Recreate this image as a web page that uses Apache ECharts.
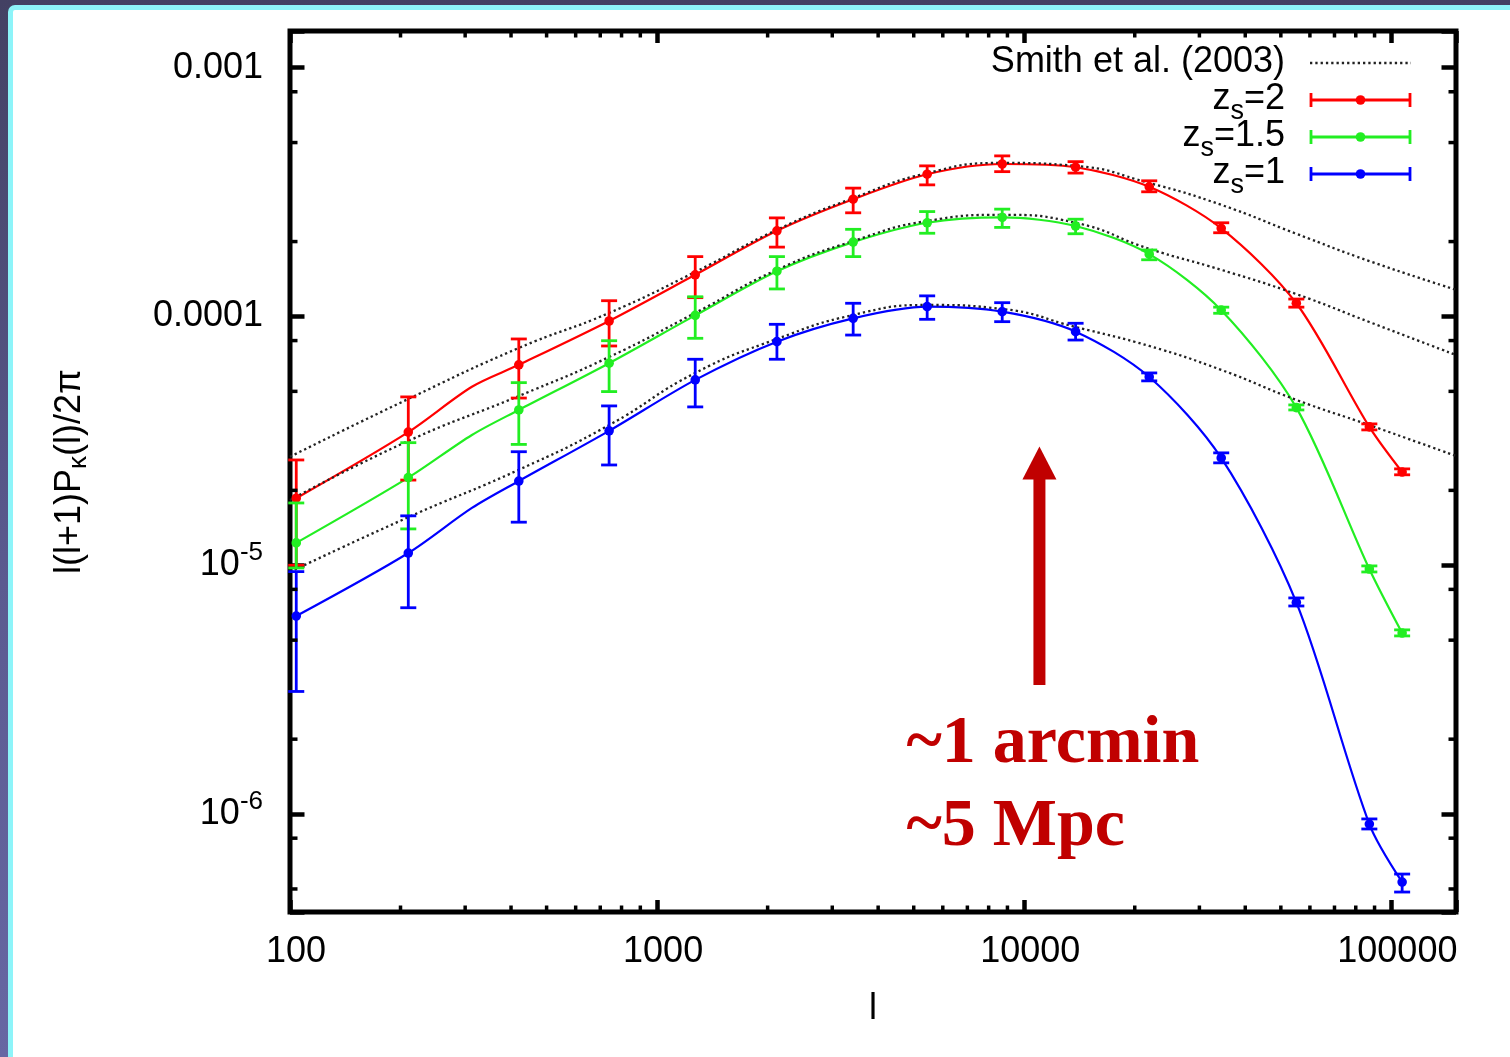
<!DOCTYPE html>
<html>
<head>
<meta charset="utf-8">
<script src="https://cdn.jsdelivr.net/npm/echarts@6/dist/echarts.min.js"></script>
<style>
  html, body { margin: 0; padding: 0; width: 1510px; height: 1057px; overflow: hidden;
    background: linear-gradient(180deg, #434163 0%, #5b5a90 55%, #6767a3 100%); }
  #panel { position: absolute; left: 8px; top: 5px; width: 1540px; height: 1090px;
    background: #fff; border: 5px solid #8df4f9; border-radius: 7px; box-sizing: border-box; }
  #chart { position: absolute; left: 0; top: 0; width: 1510px; height: 1057px; }
</style>
</head>
<body>
<div id="panel"></div>
<div id="chart"></div>
<script>
// ---- multipole bins shared by the three source redshifts ----
const binL = [104, 210, 420, 740, 1270, 2120, 3420, 5440, 8710, 13800, 21900, 34400, 55100, 87100, 107000];

// convergence power l(l+1)P(l)/2pi, with lower / upper error bar ends
const z2   = [1.86e-5, 3.43e-5, 6.39e-5, 9.59e-5, 1.47e-4, 2.21e-4, 2.96e-4, 3.73e-4, 4.10e-4, 3.98e-4, 3.32e-4, 2.26e-4, 1.13e-4, 3.60e-5, 2.37e-5];
const z2Lo = [1.00e-5, 2.20e-5, 4.70e-5, 7.61e-5, 1.19e-4, 1.90e-4, 2.61e-4, 3.38e-4, 3.82e-4, 3.77e-4, 3.17e-4, 2.17e-4, 1.09e-4, 3.50e-5, 2.31e-5];
const z2Hi = [2.65e-5, 4.75e-5, 8.12e-5, 1.157e-4, 1.74e-4, 2.49e-4, 3.28e-4, 4.03e-4, 4.42e-4, 4.19e-4, 3.51e-4, 2.38e-4, 1.175e-4, 3.70e-5, 2.44e-5];

const z15   = [1.23e-5, 2.25e-5, 4.21e-5, 6.49e-5, 1.01e-4, 1.52e-4, 1.99e-4, 2.38e-4, 2.50e-4, 2.31e-4, 1.78e-4, 1.06e-4, 4.30e-5, 9.66e-6, 5.34e-6];
const z15Lo = [9.75e-6, 1.40e-5, 3.06e-5, 4.99e-5, 8.17e-5, 1.29e-4, 1.74e-4, 2.16e-4, 2.28e-4, 2.15e-4, 1.69e-4, 1.03e-4, 4.21e-5, 9.40e-6, 5.20e-6];
const z15Hi = [1.78e-5, 3.11e-5, 5.42e-5, 7.99e-5, 1.20e-4, 1.74e-4, 2.24e-4, 2.64e-4, 2.70e-4, 2.46e-4, 1.85e-4, 1.09e-4, 4.41e-5, 9.94e-6, 5.50e-6];

const z1   = [6.25e-6, 1.12e-5, 2.18e-5, 3.47e-5, 5.56e-5, 7.92e-5, 9.83e-5, 1.095e-4, 1.045e-4, 8.69e-5, 5.71e-5, 2.70e-5, 7.09e-6, 9.12e-7, 5.33e-7];
const z1Lo = [3.11e-6, 6.75e-6, 1.49e-5, 2.53e-5, 4.33e-5, 6.73e-5, 8.42e-5, 9.74e-5, 9.53e-5, 8.04e-5, 5.51e-5, 2.58e-5, 6.86e-6, 8.71e-7, 4.86e-7];
const z1Hi = [9.43e-6, 1.58e-5, 2.86e-5, 4.37e-5, 6.73e-5, 9.30e-5, 1.13e-4, 1.21e-4, 1.136e-4, 9.39e-5, 5.93e-5, 2.83e-5, 7.39e-6, 9.56e-7, 5.74e-7];

// extra vertex of the measured curves between the 2nd and 3rd bins
const kneeL = 313;
const z2Knee = 5.22e-5, z15Knee = 3.34e-5, z1Knee = 1.70e-5;

// Smith et al. (2003) halofit predictions
const smithL  = [100, 210, 420, 740, 1270, 2120, 3420, 5440, 8710, 13800, 21900, 34400, 55100, 87100, 150000];
const smith2  = [2.73e-5, 4.66e-5, 7.47e-5, 1.033e-4, 1.51e-4, 2.23e-4, 2.99e-4, 3.77e-4, 4.14e-4, 4.03e-4, 3.44e-4, 2.81e-4, 2.15e-4, 1.67e-4, 1.28e-4];
const smith15 = [1.83e-5, 3.16e-5, 4.79e-5, 6.87e-5, 1.033e-4, 1.54e-4, 2.01e-4, 2.42e-4, 2.56e-4, 2.38e-4, 1.87e-4, 1.54e-4, 1.23e-4, 9.5e-5, 7.0e-5];
const smith1  = [9.4e-6, 1.56e-5, 2.42e-5, 3.66e-5, 5.93e-5, 8.12e-5, 1.014e-4, 1.112e-4, 1.072e-4, 9.07e-5, 7.61e-5, 6.10e-5, 4.62e-5, 3.66e-5, 2.75e-5];

// axes
const xRange = [100, 150000];
const yRange = [4.04e-7, 1.404e-3];
const xTickValues = [100, 1000, 10000, 100000];
const xTickLabels = ['100', '1000', '10000', '100000'];
const yTickValues = [1e-6, 1e-5, 1e-4, 1e-3];
const yTickLabels = [['10', '-6'], ['10', '-5'], ['0.0001', ''], ['0.001', '']];
const xMinorMant = [2, 3, 4, 5, 6, 7, 8, 9];
const yMinorMant = [2, 5, 8];
const xDecades = [100, 1000, 10000, 100000];
const yDecades = [1e-7, 1e-6, 1e-5, 1e-4];

// legend entries and annotation
const smithName = 'Smith et al. (2003)';
const seriesNames = ['z_s=2', 'z_s=1.5', 'z_s=1'];
const annotL = 11000, annotFrom = 3.3e-6, annotTo = 3.0e-5;
const annotLines = ['~1 arcmin', '~5 Mpc'];

const FONT = "'Liberation Sans', Arial, Helvetica, sans-serif";
const COLORS = ['#ff0000', '#22ee22', '#0000ff'];
const DOT = '#222222';
const DARKRED = '#c00000';

function sameDecade(a, b) { return Math.abs(Math.log10(a) - Math.log10(b)) < 1e-6; }

function curve(vals, knee) {
  const out = binL.map((l, i) => [l, vals[i]]);
  out.splice(2, 0, [kneeL, knee]);
  return out;
}

function errorBars(vals, lo, hi) { return binL.map((l, i) => [l, vals[i], lo[i], hi[i]]); }

// one error bar: stem, two caps and the central dot
function errorBarShapes(x, yc, ylo, yhi, color, hw) {
  const st = { stroke: color, lineWidth: 2.8 };
  return [
    { type: 'line', shape: { x1: x, y1: ylo, x2: x, y2: yhi }, style: st },
    { type: 'line', shape: { x1: x - hw, y1: ylo, x2: x + hw, y2: ylo }, style: st },
    { type: 'line', shape: { x1: x - hw, y1: yhi, x2: x + hw, y2: yhi }, style: st },
    { type: 'circle', shape: { cx: x, cy: yc, r: 4.8 }, style: { fill: color } }
  ];
}

function errorBarRenderer(color) {
  return function (params, api) {
    const l = api.value(0);
    const c = api.coord([l, api.value(1)]);
    const lo = api.coord([l, api.value(2)]);
    const hi = api.coord([l, api.value(3)]);
    return { type: 'group', children: errorBarShapes(c[0], c[1], lo[1], hi[1], color, 8) };
  };
}

// minor tick values (x: 2..9 per decade, y: 2,5,8 per decade)
const minorTicks = [];
xDecades.forEach(d => xMinorMant.forEach(m => {
  const v = m * d; if (v > xRange[0] && v < xRange[1]) minorTicks.push([v, 1e-4, 0]);
}));
yDecades.forEach(d => yMinorMant.forEach(m => {
  const v = m * d; if (v > yRange[0] && v < yRange[1]) minorTicks.push([1000, v, 1]);
}));

// key in the upper right corner: label text right-aligned, sample to its right
const keyTextRight = 1285, keySampleLeft = 1310, keySampleRight = 1411, keyTop = 63, keyStep = 37;
const keyRich = {
  t: { fontSize: 36, fontFamily: FONT, color: '#000', lineHeight: 52, verticalAlign: 'middle' },
  s: { fontSize: 27, fontFamily: FONT, color: '#000', verticalAlign: 'bottom' }
};
const keyElements = [];
[smithName].concat(seriesNames).forEach((name, i) => {
  const y = keyTop + keyStep * i;
  const text = i === 0 ? '{t|' + name + '}' : '{t|z}{s|s}{t|=' + name.split('=')[1] + '}';
  keyElements.push({
    type: 'text', x: keyTextRight, y: y - 1, silent: true,
    style: { text, rich: keyRich, align: 'right', verticalAlign: 'middle' }
  });
  if (i === 0) {
    keyElements.push({
      type: 'line', silent: true, shape: { x1: keySampleLeft, y1: y, x2: keySampleRight, y2: y },
      style: { stroke: DOT, lineWidth: 2.3, lineDash: [2.3, 3] }
    });
  } else {
    const color = COLORS[i - 1];
    keyElements.push({
      type: 'group', silent: true, children: [
        { type: 'line', shape: { x1: keySampleLeft, y1: y, x2: keySampleRight, y2: y }, style: { stroke: color, lineWidth: 2.8 } },
        { type: 'line', shape: { x1: keySampleLeft + 1, y1: y - 7, x2: keySampleLeft + 1, y2: y + 7 }, style: { stroke: color, lineWidth: 2.8 } },
        { type: 'line', shape: { x1: keySampleRight - 1, y1: y - 7, x2: keySampleRight - 1, y2: y + 7 }, style: { stroke: color, lineWidth: 2.8 } },
        { type: 'circle', shape: { cx: (keySampleLeft + keySampleRight) / 2, cy: y, r: 4.8 }, style: { fill: color } }
      ]
    });
  }
});

const xAxisBase = {
  type: 'log', logBase: 10, min: xRange[0], max: xRange[1],
  axisLine: { show: false }, splitLine: { show: false },
  axisTick: { inside: true, length: 12, lineStyle: { color: '#000', width: 4.5 } }
};
const yAxisBase = {
  type: 'log', logBase: 10, min: yRange[0], max: yRange[1],
  axisLine: { show: false }, splitLine: { show: false },
  axisTick: { inside: true, length: 14.5, lineStyle: { color: '#000', width: 4.5 } }
};

const option = {
  animation: false,
  backgroundColor: 'transparent',
  grid: { left: 290, right: 54, top: 31, bottom: 145, show: true, borderColor: '#000', borderWidth: 5,
          backgroundColor: 'transparent', containLabel: false, outerBoundsMode: 'none' },
  graphic: { elements: keyElements },
  xAxis: [
    Object.assign({}, xAxisBase, {
      position: 'bottom',
      name: 'l', nameLocation: 'middle', nameGap: 79,
      nameTextStyle: { fontSize: 36, fontFamily: FONT, color: '#000', lineHeight: 36 },
      axisLabel: {
        margin: 22, fontSize: 36, fontFamily: FONT, color: '#000', lineHeight: 36, padding: [0, 0, 0, 12],
        formatter: v => { const i = xTickValues.findIndex(t => sameDecade(t, v)); return i < 0 ? '' : xTickLabels[i]; }
      }
    }),
    Object.assign({}, xAxisBase, { position: 'top', axisLabel: { show: false } })
  ],
  yAxis: [
    Object.assign({}, yAxisBase, {
      position: 'left',
      name: '{a|l(l+1)P}{s|κ}{a|(l)/2π}', nameLocation: 'middle', nameGap: 198, nameRotate: 90,
      nameTextStyle: {
        rich: {
          a: { fontSize: 36, fontFamily: FONT, color: '#000', lineHeight: 44, verticalAlign: 'middle' },
          s: { fontSize: 26, fontFamily: FONT, color: '#000', lineHeight: 24, verticalAlign: 'bottom' }
        }
      },
      axisLabel: {
        margin: 27, color: '#000',
        formatter: v => {
          const i = yTickValues.findIndex(t => sameDecade(t, v));
          if (i < 0) return '';
          const lab = yTickLabels[i];
          return lab[1] ? '{b|' + lab[0] + '}{p|' + lab[1] + '}' : '{b|' + lab[0] + '}';
        },
        rich: {
          b: { fontSize: 36, fontFamily: FONT, color: '#000', lineHeight: 50, verticalAlign: 'middle' },
          p: { fontSize: 26, fontFamily: FONT, color: '#000', lineHeight: 20, verticalAlign: 'top' }
        }
      }
    }),
    Object.assign({}, yAxisBase, { position: 'right', axisLabel: { show: false } })
  ],
  series: [
    // measured curves
    ...[[z2, z2Knee], [z15, z15Knee], [z1, z1Knee]].map((p, k) => ({
      type: 'line', name: seriesNames[k], data: curve(p[0], p[1]),
      symbol: 'none', showSymbol: false, smooth: 0.3, silent: true, z: 3,
      lineStyle: { color: COLORS[k], width: 2.2 }, itemStyle: { color: COLORS[k] }
    })),
    // halofit predictions
    ...[smith2, smith15, smith1].map(vals => ({
      type: 'line', name: smithName, data: smithL.map((l, i) => [l, vals[i]]),
      symbol: 'none', showSymbol: false, smooth: true, silent: true, z: 4,
      lineStyle: { color: DOT, width: 2.3, type: [2.3, 3] }, itemStyle: { color: DOT }
    })),
    // binned points with error bars
    ...[[z2, z2Lo, z2Hi], [z15, z15Lo, z15Hi], [z1, z1Lo, z1Hi]].map((p, k) => ({
      type: 'custom', name: seriesNames[k], data: errorBars(p[0], p[1], p[2]),
      encode: { x: 0, y: [1, 2, 3] }, silent: true, z: 5,
      itemStyle: { color: COLORS[k] },
      renderItem: errorBarRenderer(COLORS[k])
    })),
    // minor ticks on all four sides of the frame
    {
      type: 'custom', name: 'minor-ticks', data: minorTicks, encode: { x: 0, y: 1 }, silent: true, z: 6,
      renderItem: (params, api) => {
        const cs = params.coordSys;
        const p = api.coord([api.value(0), api.value(1)]);
        const st = { stroke: '#000', lineWidth: 3.5 };
        if (api.value(2) === 0) {
          const yb = cs.y + cs.height, yt = cs.y;
          return { type: 'group', children: [
            { type: 'line', shape: { x1: p[0], y1: yb, x2: p[0], y2: yb - 6.5 }, style: st },
            { type: 'line', shape: { x1: p[0], y1: yt, x2: p[0], y2: yt + 6.5 }, style: st }
          ] };
        }
        const xl = cs.x, xr = cs.x + cs.width;
        return { type: 'group', children: [
          { type: 'line', shape: { x1: xl, y1: p[1], x2: xl + 7.5, y2: p[1] }, style: st },
          { type: 'line', shape: { x1: xr, y1: p[1], x2: xr - 7.5, y2: p[1] }, style: st }
        ] };
      }
    },
    // scale annotation: arrow at ~1 arcmin with its caption
    {
      type: 'custom', name: 'annotation', data: [[annotL, annotFrom, annotTo]],
      encode: { x: 0, y: [1, 2] }, silent: true, z: 7,
      renderItem: (params, api) => {
        const base = api.coord([api.value(0), api.value(1)]);
        const tip = api.coord([api.value(0), api.value(2)]);
        const headH = 33, headW = 34, shaftW = 12;
        const children = [
          { type: 'rect', shape: { x: base[0] - shaftW / 2, y: tip[1] + headH - 1, width: shaftW, height: base[1] - tip[1] - headH + 1 },
            style: { fill: DARKRED } },
          { type: 'polygon', shape: { points: [[tip[0], tip[1]], [tip[0] - headW / 2, tip[1] + headH], [tip[0] + headW / 2, tip[1] + headH]] },
            style: { fill: DARKRED } }
        ];
        annotLines.forEach((t, i) => children.push({
          type: 'text', x: base[0] - 133, y: base[1] + 59 + 83 * i,
          style: { text: t, fill: DARKRED, fontSize: 68, fontWeight: 'bold',
                   fontFamily: "'Liberation Serif', 'Times New Roman', serif", align: 'left', verticalAlign: 'middle' }
        }));
        return { type: 'group', children };
      }
    }
  ]
};

const chart = echarts.init(document.getElementById('chart'), null, { renderer: 'canvas' });
chart.setOption(option);
</script>
</body>
</html>
